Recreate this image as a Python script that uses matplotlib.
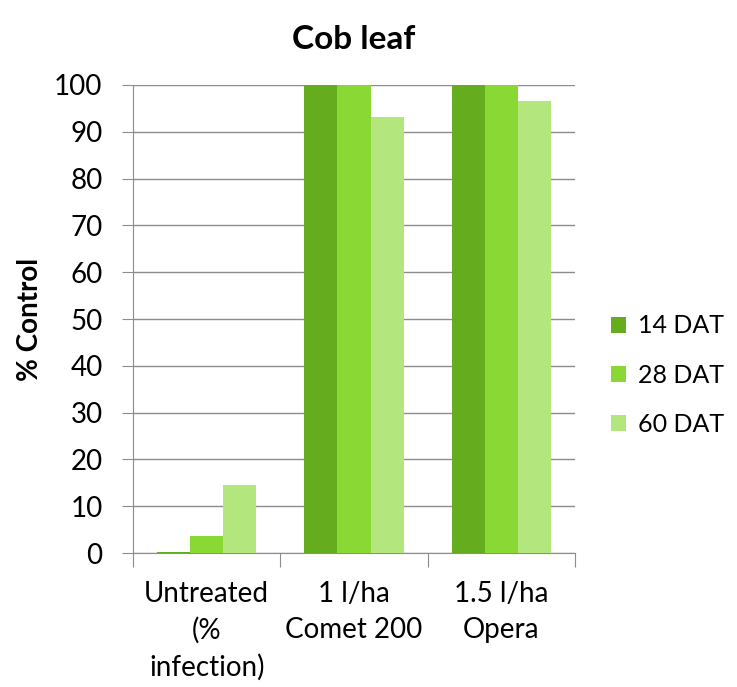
import numpy as np
import matplotlib.pyplot as plt

plt.rcParams['font.family'] = ['Lato', 'DejaVu Sans']

categories = ["Untreated\n(%\ninfection)", "1 l/ha\nComet 200", "1.5 l/ha\nOpera"]
series = ["14 DAT", "28 DAT", "60 DAT"]
dat14 = [0.3, 100, 100]
dat28 = [3.6, 100, 100]
dat60 = [14.6, 93.2, 96.6]
colors = ["#65ac1e", "#8ad834", "#b4e67e"]

fig = plt.figure(figsize=(7.37, 6.87), dpi=100)
ax = fig.add_axes([0.1805, 0.195, 0.5995, 0.6813])

x = np.arange(len(categories))
w = 0.225
for i, (vals, name, c) in enumerate(zip([dat14, dat28, dat60], series, colors)):
    ax.bar(x + (i - 1) * w, vals, width=w, color=c, label=name, zorder=3)

ax.set_xlim(-0.5, 2.5)
ax.set_ylim(0, 100)
ax.set_yticks(range(0, 101, 10))
ax.yaxis.grid(True, color="#8c8c8c", linewidth=1, zorder=0)
for s in ["top", "right"]:
    ax.spines[s].set_visible(False)
for s in ["left", "bottom"]:
    ax.spines[s].set_color("#8c8c8c")
ax.tick_params(axis="y", length=8, color="#8c8c8c", labelsize=20, pad=14)
ax.set_xticks([-0.5, 0.5, 1.5, 2.5])
ax.set_xticklabels([])
ax.tick_params(axis="x", length=10, color="#8c8c8c")
for xi, lab in zip(x, categories):
    ax.text(xi, -6, lab, ha="center", va="top", fontsize=20, linespacing=1.45,
            transform=ax.transData)

ax.set_ylabel("% Control", fontsize=20, fontweight="bold", labelpad=8)
ax.set_title("Cob leaf", fontsize=24, fontweight="bold", pad=26)

ax.legend(loc="center left", bbox_to_anchor=(1.03, 0.38), frameon=False,
          fontsize=18, handlelength=0.6, handleheight=0.6, labelspacing=1.05,
          handletextpad=0.5)

fig.savefig("out.png", dpi=100)
